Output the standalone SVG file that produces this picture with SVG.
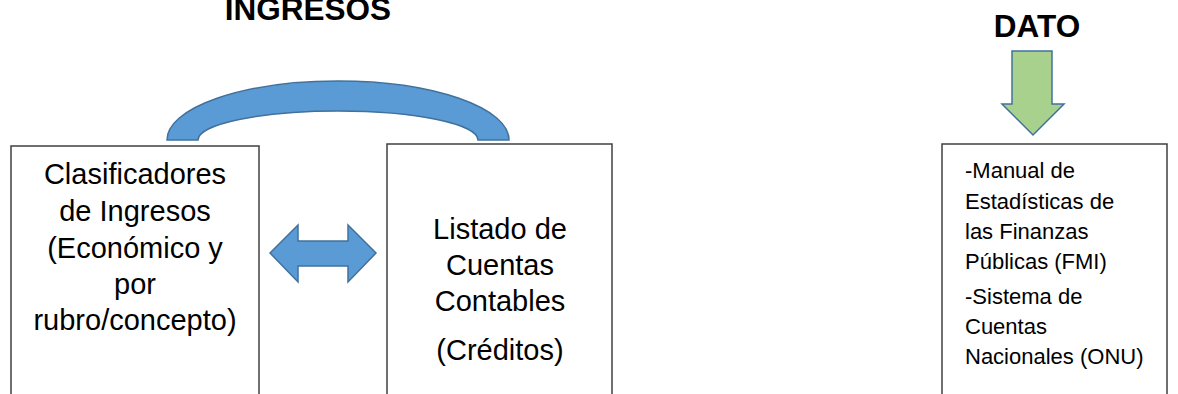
<svg xmlns="http://www.w3.org/2000/svg" width="1178" height="394" viewBox="0 0 1178 394">
<style>
.box{fill:#fff;stroke:#404040;stroke-width:1.5}
.t{font-family:"Liberation Sans",Arial,sans-serif;font-size:29px;fill:#000;text-anchor:middle}
.s{font-family:"Liberation Sans",Arial,sans-serif;font-size:22px;fill:#000}
.h{font-family:"Liberation Sans",Arial,sans-serif;font-size:31.5px;font-weight:bold;fill:#000;text-anchor:middle}
.blue{fill:#5B9BD5;stroke:#41719C;stroke-width:1.5;stroke-linejoin:miter}
.green{fill:#A9D18E;stroke:#41719C;stroke-width:1.5}
</style>
<rect width="1178" height="394" fill="#fff"/>
<text class="h" x="308" y="20">INGRESOS</text>
<text class="h" x="1037" y="37">DATO</text>
<g id="clasificadores">
<rect class="box" x="11" y="146" width="248" height="260"/>
<text class="t" x="135" y="184">Clasificadores</text>
<text class="t" x="135" y="221">de Ingresos</text>
<text class="t" x="135" y="258">(Económico y</text>
<text class="t" x="135" y="294">por</text>
<text class="t" x="135" y="330">rubro/concepto)</text>
</g>
<g id="listado">
<rect class="box" x="387" y="144" width="225" height="260"/>
<text class="t" x="500" y="239">Listado de</text>
<text class="t" x="500" y="275">Cuentas</text>
<text class="t" x="500" y="311">Contables</text>
<text class="t" x="500" y="360">(Créditos)</text>
</g>
<g id="manual">
<rect class="box" x="942" y="144" width="225" height="260"/>
<text class="s" x="965" y="178">-Manual de</text>
<text class="s" x="965" y="209">Estadísticas de</text>
<text class="s" x="965" y="239">las Finanzas</text>
<text class="s" x="965" y="269">Públicas (FMI)</text>
<text class="s" x="965" y="304">-Sistema de</text>
<text class="s" x="965" y="334">Cuentas</text>
<text class="s" x="965" y="364">Nacionales (ONU)</text>
</g>
<g id="connectors">
<path class="blue" d="M167,140 A171,59 0 0 1 509,140 L478,140 A140,29 0 0 0 198,140 Z"/>
<polygon class="blue" points="270,253 298,225 298,241 348,241 348,225 376,253 348,282 348,266 298,266 298,282"/>
<polygon class="green" points="1012,51 1052,51 1052,104 1064,104 1033,135 1002,104 1012,104"/>
</g>
</svg>
